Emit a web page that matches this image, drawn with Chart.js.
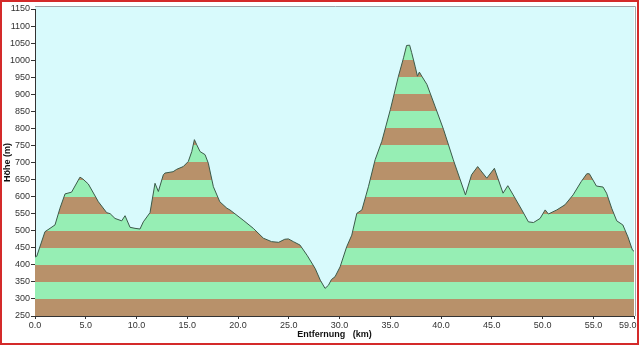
<!DOCTYPE html>
<html>
<head>
<meta charset="utf-8">
<script src="https://cdn.jsdelivr.net/npm/chart.js@4.4.0/dist/chart.umd.min.js"></script>
<style>
  html, body { margin: 0; padding: 0; background: #fff; }
  #wrap { width: 640px; height: 347px; position: relative; }
</style>
</head>
<body>
<div id="wrap"><canvas id="chart" width="640" height="347"></canvas></div>
<script>
// profile: distance (km) and height (m)
const distKm = [0, 0.17, 0.98, 1.48, 1.97, 2.46, 2.96, 3.6, 4.43, 4.7, 5.25, 6.24, 7.06, 7.4, 7.88, 8.54, 8.87, 9.36, 9.85, 10.34,
  10.67, 11.33, 11.82, 12.15, 12.64, 12.8, 13.6, 13.96, 14.6, 15.1, 15.44, 15.7, 15.93, 16.26, 16.75, 17.07, 17.57, 18.2, 18.9,
  19.2, 20.5, 21.5, 22.5, 23.3, 24.0, 24.6, 24.96, 25.45, 26.1, 26.8, 27.6, 28.1, 28.57, 28.9, 29.2, 29.55, 30.05, 30.7, 31.2,
  31.7, 32.2, 32.84, 33.5, 34.16, 35.0, 35.8, 36.3, 36.6, 36.9, 37.1, 37.44, 37.67, 37.86, 38.1, 38.6, 39.4, 40.25, 41.2, 42.4,
  43.0, 43.6, 44.5, 45.25, 46.1, 46.57, 47.1, 47.95, 48.6, 49.1, 49.75, 50.25, 50.57, 51.4, 52.2, 53.0, 53.8, 54.35, 54.6, 55.3,
  55.95, 56.3, 56.8, 57.3, 57.9, 58.4, 58.85, 59.0];
const heightM = [423, 425, 497, 507, 517, 566, 608, 613, 657, 652, 637, 585, 553, 550, 536, 529, 544, 510, 507, 505,
  526, 553, 639, 615, 664, 669, 673, 680, 688, 703, 732, 767, 752, 732, 723, 698, 629, 585, 566,
  561, 531, 507, 478, 468, 466, 475, 476, 468, 458, 428, 389, 355, 331, 340, 357, 365, 394, 453, 487,
  551, 561, 629, 708, 762, 855, 953, 1007, 1043, 1044, 1022, 982, 953, 965, 953, 929, 865, 796, 708, 605,
  664, 688, 654, 683, 610, 632, 605, 561, 526, 524, 536, 561, 549, 561, 576, 605, 644, 667, 667, 631,
  628, 610, 566, 529, 517, 482, 443, 440];
const xTicks = [0, 5, 10, 15, 20, 25, 30, 35, 40, 45, 50, 55, 59];

const yMin = 250, yMax = 1150, band = 50;
const brown = '#b8916a';
const green = '#96eeb4';

function stripes(context) {
  const chart = context.chart;
  const area = chart.chartArea;
  if (!area) return green;
  const y = chart.scales.y;
  const y0 = y.getPixelForValue(yMin);
  const y1 = y.getPixelForValue(yMax);
  const g = chart.ctx.createLinearGradient(0, y0, 0, y1);
  const n = (yMax - yMin) / band;
  for (let i = 0; i < n; i++) {
    const c = i % 2 === 0 ? brown : green;
    g.addColorStop(i / n, c);
    g.addColorStop((i + 1) / n, c);
  }
  return g;
}

const frame = {
  id: 'frame',
  beforeDraw(chart) {
    const { ctx, chartArea: a } = chart;
    ctx.save();
    ctx.fillStyle = '#d8fafc';
    ctx.fillRect(a.left, a.top - 2, a.right - a.left, a.bottom - a.top + 2);
    ctx.restore();
  },
  afterDraw(chart) {
    const { ctx, chartArea: a } = chart;
    ctx.save();
    ctx.strokeStyle = '#a0a4a8';
    ctx.lineWidth = 1;
    ctx.beginPath();
    ctx.moveTo(a.left, a.top - 2.5);
    ctx.lineTo(a.right + 1.5, a.top - 2.5);
    ctx.lineTo(a.right + 1.5, a.bottom);
    ctx.stroke();
    ctx.strokeStyle = '#d42a2a';
    ctx.lineWidth = 2;
    ctx.strokeRect(1, 1, 637, 343);
    ctx.restore();
  }
};

const font = { family: 'Liberation Sans, Arial, sans-serif', size: 9 };

new Chart(document.getElementById('chart').getContext('2d'), {
  type: 'line',
  data: {
    datasets: [{
      data: distKm.map((d, i) => ({ x: d, y: heightM[i] })),
      borderColor: '#3b5a4a',
      borderWidth: 1,
      backgroundColor: stripes,
      fill: 'start',
      pointRadius: 0,
      tension: 0
    }]
  },
  options: {
    responsive: false,
    animation: false,
    layout: { padding: { top: 9, right: 6, left: 0, bottom: 0 } },
    plugins: { legend: { display: false }, tooltip: { enabled: false } },
    scales: {
      x: {
        type: 'linear',
        min: 0,
        max: 59,
        afterBuildTicks: s => { s.ticks = xTicks.map(v => ({ value: v })); },
        afterFit: s => { s.height = 31; s.paddingLeft = 0; s.paddingRight = 0; },
        ticks: { font: font, color: '#333', padding: 1, maxRotation: 0, autoSkip: false,
          // last label sits flush against the right edge, pad it so it is not cut off
          callback: v => v === 59 ? '59.0     ' : Number(v).toFixed(1) },
        grid: { drawOnChartArea: false, drawTicks: true, tickLength: 3, color: '#333' },
        border: { color: '#333', width: 1 },
        title: { display: true, text: 'Entfernung   (km)', color: '#111',
          font: { family: font.family, size: 9, weight: 'bold' }, padding: { top: 0, bottom: 7 } }
      },
      y: {
        min: yMin,
        max: yMax,
        afterFit: s => { s.width = 35; },
        ticks: { stepSize: band, font: font, color: '#333', padding: 1, callback: v => String(v) },
        grid: { drawOnChartArea: false, drawTicks: true, tickLength: 4, color: '#333' },
        border: { color: '#333', width: 1 },
        title: { display: true, text: 'Höhe (m)', color: '#111',
          font: { family: font.family, size: 9, weight: 'bold' }, padding: { top: 2, bottom: 0 } }
      }
    }
  },
  plugins: [frame]
});
</script>
</body>
</html>
